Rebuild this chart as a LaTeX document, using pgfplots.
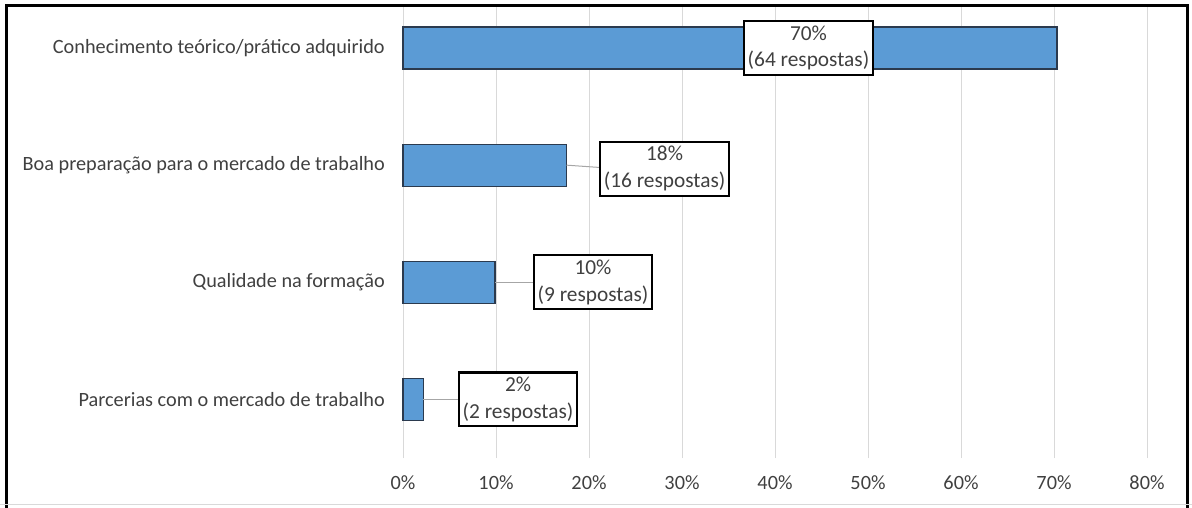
\documentclass[border=0pt]{standalone}
\usepackage{pgfplots}
\pgfplotsset{compat=1.18}
\usepackage{pgfplotstable}
\usepackage{fontspec}
\setmainfont{Carlito}
\definecolor{barblue}{HTML}{5B9BD5}
\definecolor{baredge}{HTML}{2B3A4E}
\definecolor{gridgray}{HTML}{D9D9D9}
\definecolor{txt}{HTML}{404040}
\definecolor{lead}{HTML}{A6A6A6}
\pgfplotstableread{
y x
1 2.20
2 9.89
3 17.58
4 70.33
}\data
\begin{document}
\begin{tikzpicture}
\useasboundingbox (0,0) rectangle (894pt,-380.25pt);
\begin{axis}[
  at={(302.25pt,-343.5pt)}, anchor=south west,
  scale only axis, width=558pt, height=338.25pt,
  xbar, bar width=31.5pt,
  xmin=0, xmax=80, ymin=0.5, ymax=4.35,
  xtick={0,10,...,80},
  xticklabel={\pgfmathprintnumber{\tick}\%},
  /pgf/number format/assume math mode=true,
  ytick={1,2,3,4},
  yticklabels={Parcerias com o mercado de trabalho,Qualidade na formação,Boa preparação para o mercado de trabalho,Conhecimento teórico/prático adquirido},
  axis line style={draw=none},
  major tick length=0pt,
  xmajorgrids, grid style={gridgray, line width=0.75pt},
  ticklabel style={font=\fontsize{15.2}{18}\selectfont, text=txt},
  yticklabel style={anchor=east, inner sep=0pt, xshift=-13.5pt},
  xticklabel style={anchor=north, inner sep=0pt, yshift=-13pt},
  clip=false,
]
\addplot[fill=barblue, draw=baredge, line width=0.9pt] table[x=x, y=y] {\data};
\draw[lead, line width=0.75pt] (axis cs:17.58,3) -- (axis cs:21.18,2.98);
\draw[lead, line width=0.75pt] (axis cs:9.89,2) -- (axis cs:13.98,2);
\draw[lead, line width=0.75pt] (axis cs:2.20,1) -- (axis cs:5.91,1);
\tikzset{lbl/.style={draw=black, line width=1.6pt, fill=white, align=center, inner xsep=3pt, inner ysep=3.5pt, font=\fontsize{16}{20}\selectfont, text=txt}}
\node[lbl] at (axis cs:43.6,4) {70\%\\(64 respostas)};
\node[lbl] at (axis cs:28.13,2.97) {18\%\\(16 respostas)};
\node[lbl] at (axis cs:20.43,2) {10\%\\(9 respostas)};
\node[lbl] at (axis cs:12.37,1) {2\%\\(2 respostas)};
\end{axis}
\draw[black, line width=2.2pt] (4.9pt,-400pt) -- (4.9pt,-4.1pt) -- (890.6pt,-4.1pt) -- (890.6pt,-400pt);
\draw[gridgray, line width=0.75pt] (0pt,-378.5pt) -- (894pt,-378.5pt);
\end{tikzpicture}
\end{document}
